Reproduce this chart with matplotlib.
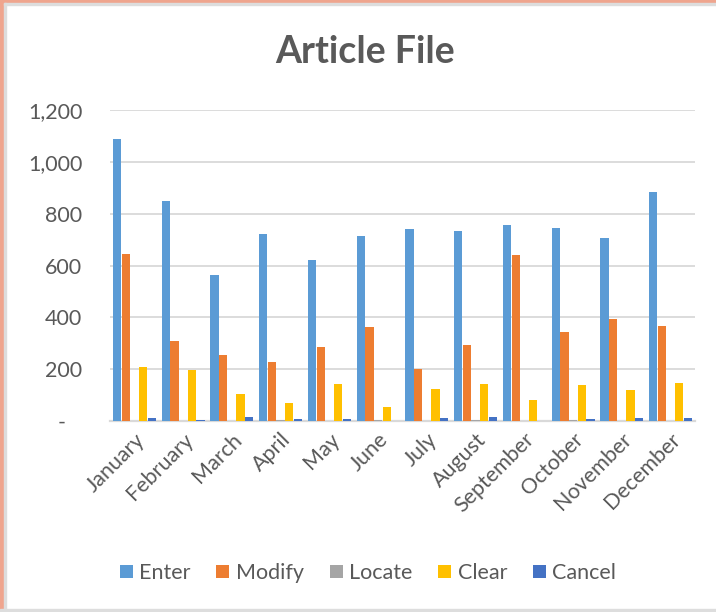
import matplotlib
matplotlib.use("Agg")
import matplotlib.pyplot as plt
import numpy as np
from matplotlib.ticker import FuncFormatter
from matplotlib.patches import Rectangle

months = ["January", "February", "March", "April", "May", "June", "July",
          "August", "September", "October", "November", "December"]
enter = [1088, 850, 565, 722, 622, 712, 742, 735, 755, 745, 705, 885]
modify = [645, 310, 255, 228, 285, 362, 200, 292, 642, 342, 395, 365]
locate = [0, 0, 0, 3, 0, 3, 0, 4, 0, 2, 0, 0]
clear = [210, 195, 103, 68, 142, 55, 122, 142, 80, 138, 118, 145]
cancel = [12, 5, 15, 8, 8, 0, 11, 15, 0, 8, 11, 11]
series_names = ["Enter", "Modify", "Locate", "Clear", "Cancel"]
colors = ["#5B9BD5", "#ED7D31", "#A5A5A5", "#FFC000", "#4472C4"]
yticks = [0, 200, 400, 600, 800, 1000, 1200]

plt.rcParams['font.family'] = ['Lato', 'DejaVu Sans']
W, H = 716, 612
fig = plt.figure(figsize=(W / 100, H / 100), dpi=100)
fig.patch.set_facecolor("white")

ax = fig.add_axes([110 / W, 1 - 421 / H, 585 / W, (421 - 110) / H])
data = [enter, modify, locate, clear, cancel]
x = np.arange(len(months))
bw = 0.178
for i, (vals, c, n) in enumerate(zip(data, colors, series_names)):
    off = (i - 2) * bw
    ax.bar(x + off, vals, width=bw * 0.96, color=c, label=n, zorder=3)

ax.set_xlim(-0.5, len(months) - 0.5)
ax.set_ylim(0, 1200)
ax.set_yticks(yticks)
ax.yaxis.set_major_formatter(FuncFormatter(lambda v, p: "-   " if v == 0 else f"{int(v):,}"))
ax.grid(axis="y", color="#D9D9D9", linewidth=1.3, zorder=0)
for s in ["top", "right", "left"]:
    ax.spines[s].set_visible(False)
ax.spines["bottom"].set_color("#D9D9D9")
ax.spines["bottom"].set_linewidth(1.6)
ax.tick_params(axis="y", length=0, pad=20, labelsize=15.5, labelcolor="#595959")
ax.tick_params(axis="x", length=0, pad=6, labelsize=15.5, labelcolor="#595959")
ax.set_xticks(x)
ax.set_xticklabels(months, rotation=45, ha="right", va="top", rotation_mode="anchor")

fig.text(365 / W, 1 - 52 / H, "Article File", ha="center", va="center",
         fontsize=27, fontweight="bold", color="#595959")

fig.legend(loc="center", bbox_to_anchor=(368 / W, 1 - 573 / H), ncol=5, frameon=False,
           fontsize=15.5, labelcolor="#595959", handlelength=0.6, handleheight=0.6,
           handletextpad=0.3, columnspacing=1.2)

# border
fig.add_artist(Rectangle((0, 0), 4 / W, 1, transform=fig.transFigure, color="#EFA58E", zorder=10))
fig.add_artist(Rectangle((0, 1 - 3 / H), 1, 3 / H, transform=fig.transFigure, color="#EFA58E", zorder=10))
fig.add_artist(Rectangle((4 / W, 0), 2 / W, 1 - 3 / H, transform=fig.transFigure, color="#DDDDDD", zorder=10))
fig.add_artist(Rectangle((4 / W, 1 - 5 / H), 1, 2 / H, transform=fig.transFigure, color="#DDDDDD", zorder=10))
fig.add_artist(Rectangle((0, 0), 1, 3 / H, transform=fig.transFigure, color="#DDDDDD", zorder=10))

fig.savefig("out.png", dpi=100, facecolor="white")
